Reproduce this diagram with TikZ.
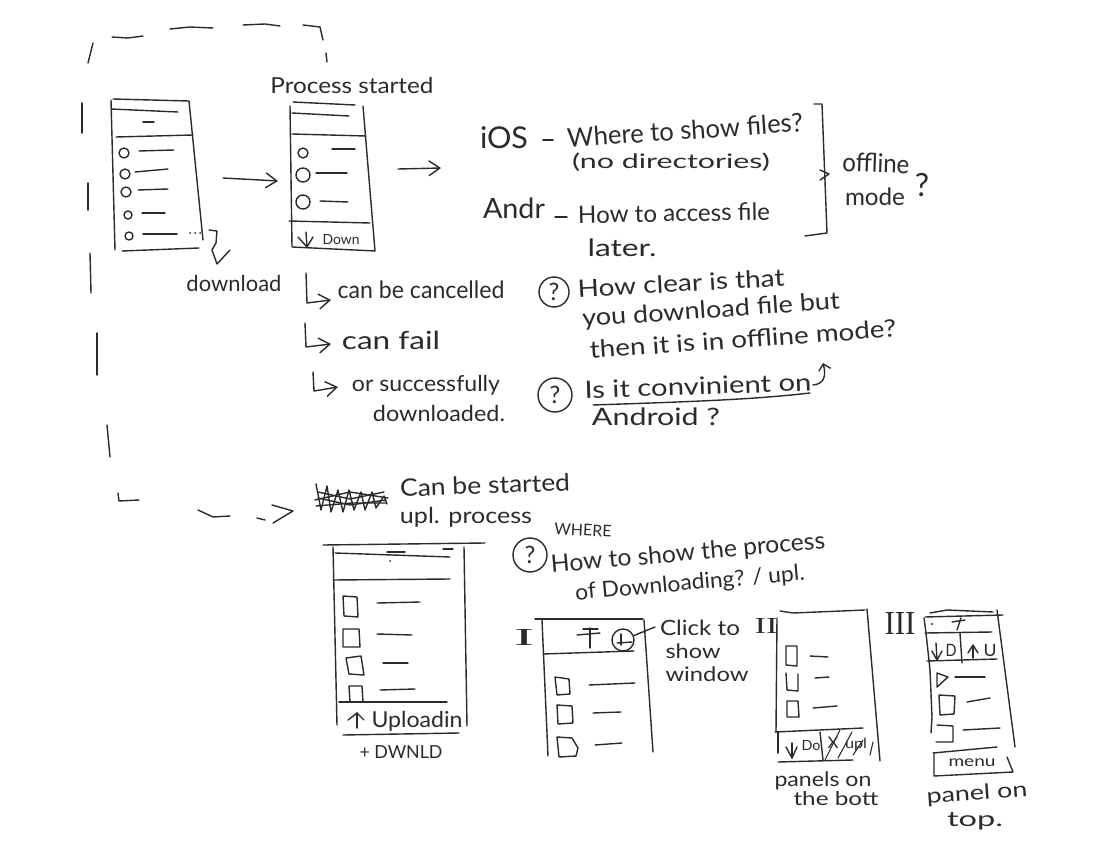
\documentclass[tikz,border=0pt]{standalone}
\usepackage{graphicx}
\usepackage{fontspec}
\setmainfont{Lato}
\newfontfamily\romanfont{Liberation Serif}
\usetikzlibrary{arrows.meta}
\definecolor{ink}{HTML}{2B2B2B}
\tikzset{
  pen/.style={draw=ink,line width=1.4pt,line cap=round,line join=round},
  thin pen/.style={draw=ink,line width=1.1pt,line cap=round,line join=round},
  hand/.style={text=ink,inner sep=0pt,outer sep=0pt},
  qmark/.style={circle,draw=ink,line width=1.4pt,text=ink,inner sep=0pt,font=\fontsize{24}{24}\selectfont},
  barb/.style={-{Straight Barb[length=11pt,width=15pt,line width=1.4pt]}}
}
% [rotation]{name}{x}{y}{width}{font size}{text}
\newcommand{\hw}[7][0]{\node[hand,rotate=#1] (#2) at (#3,#4) {\resizebox{#5pt}{\height}{\fontsize{#6}{#6}\selectfont #7}};}
\newcommand{\rn}[6]{\node[hand] (#1) at (#2,#3) {\resizebox{#4pt}{#5pt}{\romanfont #6}};}
\begin{document}
\begin{tikzpicture}[x=1pt,y=-1pt]
\useasboundingbox (0,0) rectangle (1096,864);
\fill[white] (0,0) rectangle (1096,864);

% dashed return path
\draw[pen] (112,37)--(128,38)--(143,36);
\draw[pen] (170,29)--(190,27)--(213,28);
\draw[pen] (243,25)--(265,24)--(280,26);
\draw[pen] (303,25)--(320,27)--(323,40);
\draw[pen] (326,53)--(327,62);
\draw[pen] (93,43)--(88,63);
\draw[pen] (82,103)--(82,133);
\draw[pen] (88,183)--(88,210);
\draw[pen] (90,253)--(91,293);
\draw[pen] (97,333)--(97,375);
\draw[pen] (107,425)--(110,457);
\draw[pen] (118,493)--(119,501)--(139,500);
\draw[pen] (198,510)--(213,517)--(230,516);
\draw[pen] (257,518)--(265,520);
\draw[pen] (272,505)--(293,511)--(273,523);

% screen 1
\draw[pen] (113,99)--(189,101)--(203,240);
\draw[pen] (111,100)--(115,250);
\draw[pen] (111,109)--(178,112);
\draw[pen] (143,122)--(154,122);
\draw[pen] (116,137)--(193,135);
\draw[pen] (122,251)--(199,248);
\foreach \cx/\cy/\cr in {124/153/5,125/174/5,126/192/5,128/215/4,129/236/4}
  \draw[pen] (\cx,\cy) circle[radius=\cr];
\draw[pen] (139,151)--(174,150);
\draw[pen] (135,172)--(168,169);
\draw[pen] (138,190)--(168,189);
\draw[pen] (142,213)--(165,213);
\draw[pen] (143,234)--(177,234);
\fill[ink] (190,233) circle[radius=1] (195,233) circle[radius=1] (200,233) circle[radius=1];
\draw[pen] (209,230)--(217,231)--(216,243)--(212,250)--(217,264)--(230,250);

% arrow 1
\coordinate (a1s) at (223,178);
\coordinate (a1e) at (278,181);
\draw[pen,barb] (a1s)--(a1e);

% screen 2
\hw{ps}{352}{85}{163}{22}{Process started}
\draw[pen] (293,102)--(355,105);
\draw[pen] (290,106)--(292,247)--(375,251)--(363,106);
\draw[pen] (292,113)--(349,116);
\draw[pen] (292,134)--(366,136);
\foreach \cx/\cy/\cr in {303/153/5,303/175/7,303/202/7}
  \draw[pen] (\cx,\cy) circle[radius=\cr];
\draw[pen] (332,149)--(355,149);
\draw[pen] (316,173)--(347,173);
\draw[pen] (320,201)--(348,202);
\draw[pen] (289,221)--(370,223);
\draw[pen] (306,232)--(307,247);
\draw[pen] (298,237)--(307,247)--(313,237);
\hw{dn}{341}{240}{37}{14}{Down}

% arrow 2
\coordinate (a2s) at (398,169);
\coordinate (a2e) at (441,168);
\draw[pen,barb] (a2s)--(a2e);

% top right notes
\hw{ios}{504}{138}{48}{30}{iOS}
\draw[pen] (543,140)--(553,140);
\hw[4]{q1t}{685}{130}{236}{26}{Where to show files?}
\hw{q1b}{671}{162}{198}{20}{(no directories)}
\hw{andr}{514}{208}{62}{28}{Andr}
\draw[pen] (555,217)--(567,217);
\hw[1]{h1}{674}{213}{192}{24}{How to access file}
\hw{lat}{622}{248}{69}{24}{later.}
\draw[pen] (814,104)--(822,104)--(827,233)--(805,236);
\draw[pen] (820,170)--(829,174)--(820,180);
\hw[-2]{off}{876}{163}{67}{26}{offline}
\hw{mod}{875}{197}{60}{24}{mode}
\node[hand,font=\fontsize{32}{32}\selectfont] (modeq) at (922,185) {?};

% download + list
\hw{dl}{234}{283}{95}{22}{download}
\draw[pen,barb] (306,273)--(307,303)--(331,300);
\hw{c1}{421}{290}{167}{24}{can be cancelled}
\draw[pen,barb] (305,323)--(306,347)--(331,344);
\hw{c2}{391}{340}{98}{25}{can fail}
\draw[pen,barb] (313,372)--(314,391)--(338,387);
\hw{c3}{426}{385}{148}{22}{or successfully}
\hw{c4}{439}{413}{132}{22}{downloaded.}

% question 1
\node[qmark,minimum size=30pt] (q1) at (554,292) {?};
\hw[3]{t1}{681}{283}{207}{24}{How clear is that}
\hw[4]{t2}{711}{311}{258}{24}{you download file but}
\hw[4]{t3}{743}{339}{307}{24}{then it is in offline mode?}

% question 2
\node[qmark,minimum size=34pt] (q2) at (555,395) {?};
\hw[2]{t4}{698}{386}{227}{24}{Is it convinient on}
\draw[pen] (593,405) .. controls (680,402) and (750,400) .. (810,393);
\coordinate (ups) at (813,385);
\coordinate (upe) at (823,363);
\draw[pen,-{Straight Barb[length=6pt,width=12pt,line width=1.4pt]}] (ups) .. controls (825,384) and (826,375) .. (upe);
\hw{t5}{656}{417}{128}{24}{Android ?}

% scribble
\draw[pen] (316,484)--(321,510)--(327,486)--(331,512)--(338,490)--(343,512)--(349,490)--(354,510)--(361,492)--(365,510)--(372,492)--(376,508)--(384,496)--(387,504);
\draw[pen] (315,500)--(350,492)--(388,498);
\draw[pen] (316,506)--(352,503)--(386,503);
\draw[pen] (318,492)--(350,499)--(384,492);
\draw[pen] (318,498)--(350,505)--(386,500);
\hw[2]{cb}{485}{485}{170}{24}{Can be started}
\hw{up}{466}{517}{132}{22}{upl. process}

% screen 3
\draw[pen] (323,545)--(485,543);
\draw[pen] (333,547)--(337,725);
\draw[pen] (464,547)--(467,726);
\draw[pen] (335,553)--(450,557);
\draw[pen] (387,552)--(405,552);
\draw[pen] (443,549)--(453,549);
\fill[ink] (390,561) circle[radius=1];
\draw[pen] (333,580)--(450,579);
\draw[pen] (343,596)--(357,597)--(358,617)--(344,616)--cycle;
\draw[pen] (343,629)--(359,629)--(360,647)--(343,647)--cycle;
\draw[pen] (346,658)--(361,656)--(364,675)--(349,674)--cycle;
\draw[pen] (350,702)--(349,686)--(362,686)--(363,702);
\draw[pen] (377,603)--(420,602);
\draw[pen] (377,634)--(412,635);
\draw[pen] (383,663)--(408,663);
\draw[pen] (380,690)--(415,689);
\draw[pen] (339,702)--(447,702);
\draw[pen] (343,735)--(459,733);
\draw[pen] (357,728)--(357,713);
\draw[pen] (348,720)--(357,713)--(364,720);
\hw{upl}{417}{721}{91}{22}{Uploadin}
\hw{dw}{401}{752}{83}{18}{+ DWNLD}

% question 3
\node[qmark,minimum size=34pt] (q3) at (530,555) {?};
\hw[-3]{wh}{583}{530}{57}{16}{WHERE}
\hw[5]{t6}{688}{554}{275}{24}{How to show the process}
\hw[5]{t7}{690}{584}{230}{22}{of Downloading? / upl.}

% screen I
\rn{r1}{524}{637}{20}{16}{I}
\draw[pen] (535,619)--(643,619);
\draw[pen] (542,620)--(548,756);
\draw[pen] (644,620)--(653,752);
\draw[pen] (543,654)--(634,651);
\draw[pen] (577,635)--(600,633);
\draw[pen] (583,629)--(598,629);
\draw[pen] (590,628)--(590,648);
\node[circle,draw=ink,line width=1.4pt,minimum size=22pt,inner sep=0pt] (plus) at (623,640) {};
\draw[pen] (617,643)--(632,642);
\draw[pen] (621,634)--(621,645);
\coordinate (clk) at (655,627);
\draw[pen] (plus)--(clk);
\draw[pen] (555,677)--(569,679)--(570,694)--(557,695)--cycle;
\draw[pen] (557,705)--(572,706)--(573,723)--(558,724)--cycle;
\draw[pen] (557,737)--(572,738)--(578,748)--(576,756)--(559,757)--cycle;
\draw[pen] (589,685)--(635,683);
\draw[pen] (593,713)--(621,712);
\draw[pen] (595,745)--(622,743);
\hw{cl}{700}{628}{80}{21}{Click to}
\hw{sh}{693}{651}{55}{20}{show}
\hw{wi}{707}{674}{83}{20}{window}

% screen II
\rn{r2}{766}{626}{23}{15}{II}
\draw[pen] (780,611)--(793,613)--(865,610);
\draw[pen] (777,618)--(776,732);
\draw[pen] (867,609)--(880,761);
\draw[pen] (775,732)--(863,728);
\draw[pen] (778,732)--(778,753);
\draw[pen] (778,762)--(853,760);
\draw[pen] (820,732)--(823,760);
\draw[pen] (786,646)--(797,646)--(797,666)--(786,665)--cycle;
\draw[pen] (786,673)--(787,690)--(798,691)--(798,674);
\draw[pen] (787,701)--(798,701)--(799,717)--(787,717)--cycle;
\draw[pen] (810,656)--(828,657);
\draw[pen] (815,678)--(829,677);
\draw[pen] (813,708)--(837,706);
\draw[pen] (792,743)--(792,758);
\draw[pen] (786,747)--(792,758)--(797,747);
\hw{iid}{811}{746}{19}{14}{Do}
\hw{iix}{833}{743}{11}{16}{X}
\hw{iiu}{856}{745}{22}{14}{upl}
\draw[thin pen] (825,760)--(840,730);
\draw[thin pen] (838,758)--(852,732);
\draw[thin pen] (853,755)--(863,740);
\draw[thin pen] (870,755)--(873,742);
\hw{pa}{823}{781}{97}{20}{panels on}
\hw{bo}{836}{799}{85}{19}{the bott}

% screen III
\rn{r3}{900}{623}{31}{22}{III}
\draw[pen] (930,613)--(947,610)--(993,612);
\draw[pen] (925,617)--(1003,615);
\draw[pen] (924,618)--(926,633)--(930,670)--(932,717)--(931,733);
\draw[pen] (997,610)--(1015,747);
\draw[pen] (925,633)--(992,632);
\draw[pen] (927,661)--(997,659);
\draw[pen] (960,633)--(962,663);
\fill[ink] (932,624) circle[radius=1.2];
\draw[pen] (952,622)--(965,620);
\draw[pen] (961,618)--(957,630);
\draw[pen] (936,643)--(937,660);
\draw[pen] (932,651)--(937,660)--(942,651);
\hw{iiid}{951}{650}{11}{17}{D}
\draw[pen] (973,647)--(973,658);
\draw[pen] (968,653)--(973,645)--(978,653);
\hw{iiiu}{990}{650}{13}{17}{U}
\draw[pen] (937,673)--(948,677)--(937,687)--cycle;
\draw[pen] (955,677)--(985,677);
\draw[pen] (939,695)--(955,696)--(954,714)--(940,715)--cycle;
\draw[pen] (967,702)--(990,698);
\draw[pen] (937,725)--(953,726)--(953,742)--(936,742);
\draw[pen] (963,730)--(1000,728);
\draw[pen] (933,753)--(997,747);
\draw[pen] (934,753)--(934,776)--(1013,772)--(1007,757);
\hw{me}{972}{763}{47}{15}{menu}
\hw[4]{pb}{977}{794}{101}{21}{panel on}
\hw{to}{975}{821}{56}{21}{top.}
\end{tikzpicture}
\end{document}
